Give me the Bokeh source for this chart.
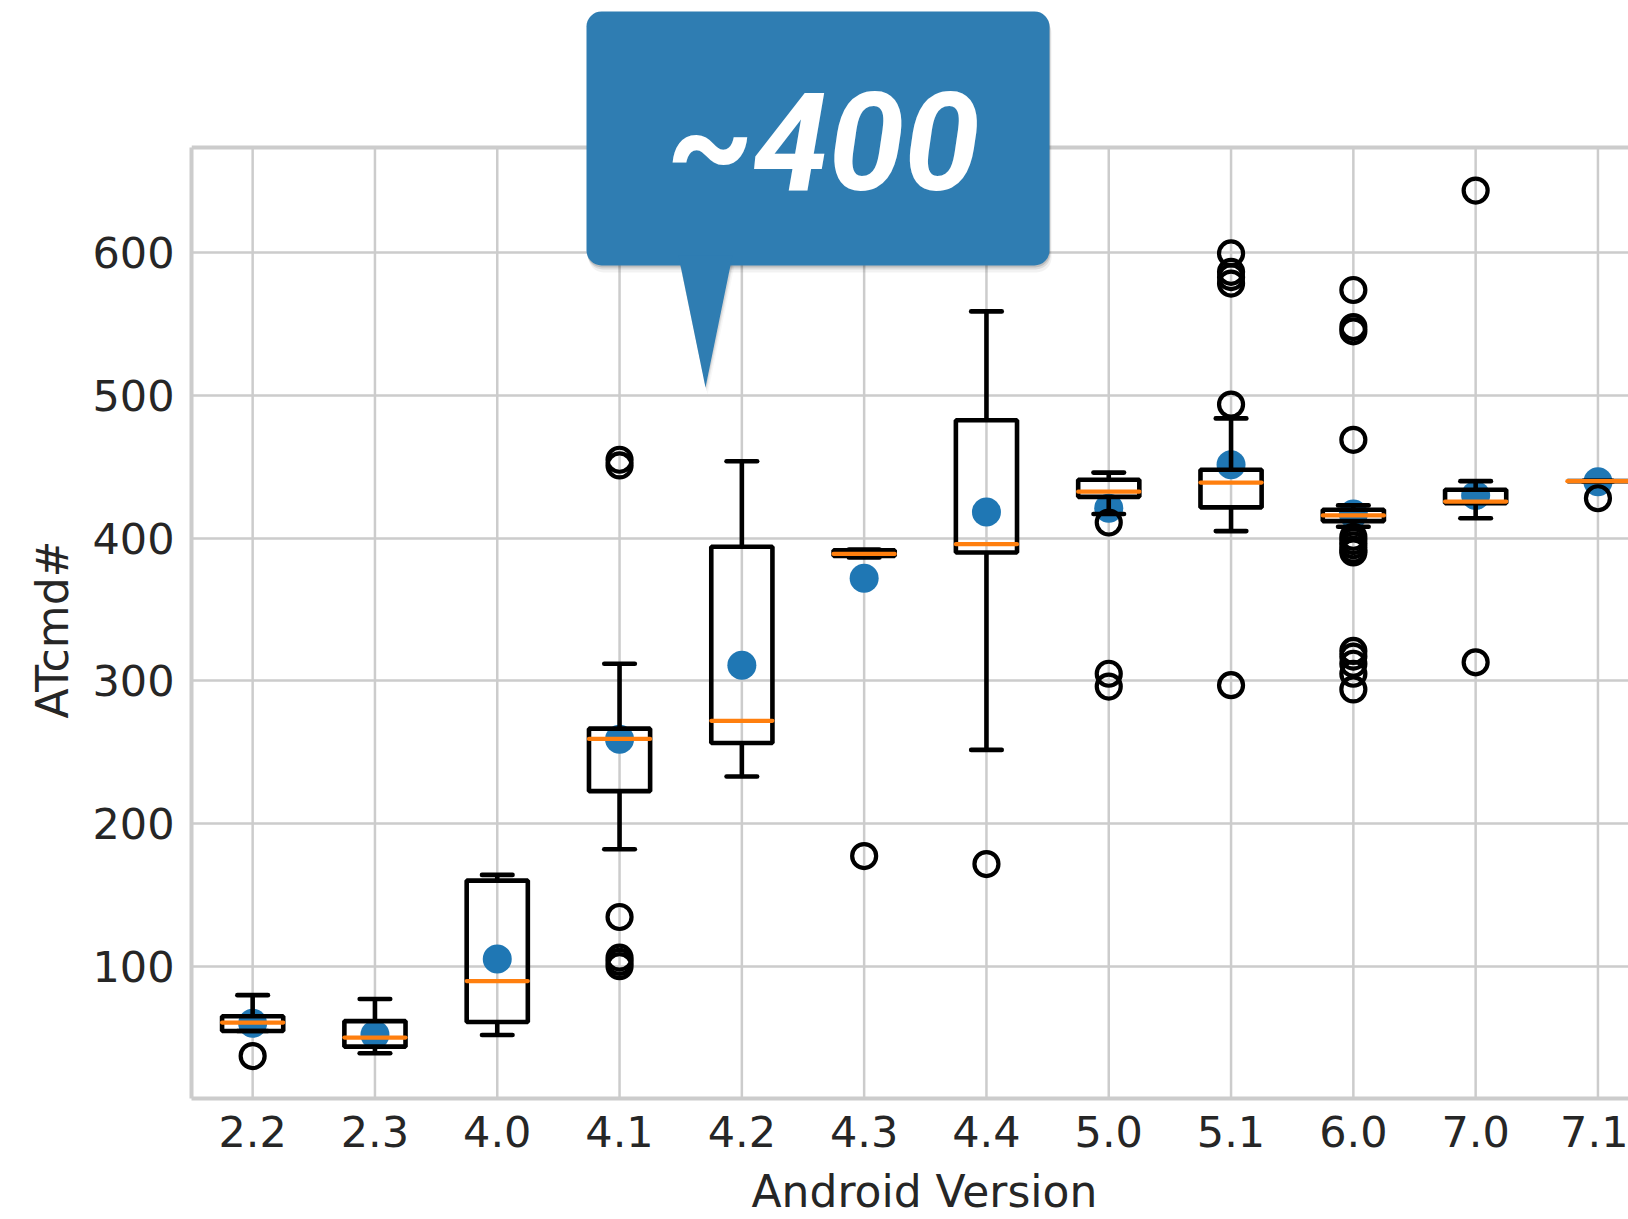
from bokeh.plotting import figure
from bokeh.models import (Range1d, FixedTicker, BoxAnnotation, PolyAnnotation, Label,
                          Span, Title, ColumnDataSource)
from bokeh.embed import file_html
from bokeh.resources import INLINE

# ---------------- data ----------------
categories = ["2.2", "2.3", "4.0", "4.1", "4.2", "4.3", "4.4", "5.0", "5.1", "6.0", "7.0", "7.1"]
whisker_lo = [54.6, 39.0, 51.8, 182.0, 233.0, 386.5, 251.6, 417.0, 405.0, 408.0, 414.0, 440.0]
q1         = [54.6, 43.6, 60.9, 222.7, 256.5, 387.5, 390.0, 429.0, 421.6, 412.0, 424.5, 440.0]
median     = [60.5, 50.0, 89.6, 259.3, 272.0, 389.0, 395.8, 432.6, 439.0, 416.0, 425.7, 440.0]
q3         = [64.9, 61.5, 160.0, 266.5, 394.0, 391.5, 482.7, 441.0, 448.0, 420.0, 434.0, 440.0]
whisker_hi = [79.7, 77.0, 164.0, 312.0, 454.0, 392.0, 559.0, 446.0, 484.0, 423.0, 440.0, 440.0]
mean       = [60.0, 52.0, 105.0, 259.0, 311.0, 372.0, 418.4, 421.0, 451.5, 417.0, 430.0, 439.5]

outlier_cat = ["2.2",
               "4.1", "4.1", "4.1", "4.1", "4.1", "4.1",
               "4.3", "4.4",
               "5.0", "5.0", "5.0",
               "5.1", "5.1", "5.1", "5.1", "5.1", "5.1",
               "6.0", "6.0", "6.0", "6.0", "6.0", "6.0", "6.0", "6.0", "6.0",
               "6.0", "6.0", "6.0", "6.0", "6.0",
               "7.0", "7.0",
               "7.1"]
outlier_val = [37.0,
               455.0, 451.0, 134.5, 106.0, 103.0, 100.0,
               177.2, 171.6,
               411.0, 305.0, 296.0,
               599.6, 586.7, 583.0, 578.5, 493.7, 297.0,
               574.0, 548.0, 545.0, 469.0, 401.0, 398.0, 395.0, 392.0, 390.0,
               321.0, 317.0, 312.0, 305.0, 294.0,
               643.7, 313.0,
               428.0]

y_ticks = [100, 200, 300, 400, 500, 600]
callout_text = "~400"
x_title = "Android Version"
y_title = "ATcmd#"

# ---------------- geometry ----------------
pos = {c: i + 1 for i, c in enumerate(categories)}
xs = [pos[c] for c in categories]
box_w = 0.5
cap_w = 0.25

# data extent of the axes box (matplotlib-like 5% margins)
AX_X0, AX_X1 = 0.5, len(categories) + 0.5
AX_Y0, AX_Y1 = 7.26, 673.9

LEFT = 191
FRAME_W = 1628 - LEFT
FRAME_H = 1098
BOTTOM = 121
PX_PER_X = 122.3
PX_PER_Y = 1.4266

X0 = AX_X0
X1 = X0 + FRAME_W / PX_PER_X
Y0 = AX_Y0
Y1 = Y0 + FRAME_H / PX_PER_Y   # frame reaches the top of the page so the callout fits

GRID = "#cccccc"
TXT = "#262626"

p = figure(frame_width=FRAME_W, frame_height=FRAME_H,
           min_border_left=LEFT, min_border_right=0,
           min_border_top=0, min_border_bottom=BOTTOM,
           x_range=Range1d(X0, X1), y_range=Range1d(Y0, Y1),
           output_backend="svg", toolbar_location=None,
           background_fill_color="white", border_fill_color="white")
p.outline_line_color = None

def px_x(px):
    return X0 + (px - LEFT) / PX_PER_X

def px_y(py):
    return Y1 - py / PX_PER_Y

# axes
p.xaxis.ticker = FixedTicker(ticks=xs)
p.xaxis.major_label_overrides = {x: c for x, c in zip(xs, categories)}
p.xaxis.bounds = (AX_X0, AX_X1)
p.yaxis.ticker = FixedTicker(ticks=y_ticks)
p.yaxis.bounds = (AX_Y0, AX_Y1)
for ax in (p.xaxis, p.yaxis):
    ax.axis_line_color = GRID
    ax.axis_line_width = 4
    ax.major_tick_line_color = None
    ax.minor_tick_line_color = None
    ax.major_tick_out = 0
    ax.major_tick_in = 0
    ax.major_label_text_font = "DejaVu Sans"
    ax.major_label_text_font_size = "43px"
    ax.major_label_text_color = TXT
p.xaxis.major_label_standoff = 17
p.yaxis.major_label_standoff = 17

# axis titles, positioned along the axes box (not the taller frame)
title_style = dict(text_font="DejaVu Sans", text_font_size="44px",
                   text_font_style="normal", text_color=TXT)
p.add_layout(Title(text=y_title, align="left", offset=380, vertical_align="bottom",
                   standoff=24, **title_style), "left")
p.add_layout(Title(text=x_title, align="left", offset=560, vertical_align="bottom",
                   standoff=28, **title_style), "below")

# grid: horizontal built in, vertical limited to the axes box
p.ygrid.ticker = FixedTicker(ticks=y_ticks)
p.ygrid.grid_line_color = GRID
p.ygrid.grid_line_width = 2.5
p.xgrid.visible = False
p.segment(x0=xs, y0=[AX_Y0] * len(xs), x1=xs, y1=[AX_Y1] * len(xs),
          line_color=GRID, line_width=2.5, level="underlay")
# top spine
p.add_layout(Span(location=AX_Y1, dimension="width", line_color=GRID, line_width=4))

# ---------------- marks ----------------
src = ColumnDataSource(dict(
    x=xs, left=[x - box_w / 2 for x in xs], right=[x + box_w / 2 for x in xs],
    cl=[x - cap_w / 2 for x in xs], cr=[x + cap_w / 2 for x in xs],
    lo=whisker_lo, q1=q1, med=median, q3=q3, hi=whisker_hi, mean=mean))

LW = 4.6
p.scatter("x", "mean", source=src, size=29, color="#1f77b4", line_color=None)
p.quad(left="left", right="right", bottom="q1", top="q3", source=src,
       fill_color=None, line_color="black", line_width=LW)
p.segment(x0="x", y0="q3", x1="x", y1="hi", source=src, line_color="black", line_width=LW)
p.segment(x0="x", y0="q1", x1="x", y1="lo", source=src, line_color="black", line_width=LW)
p.segment(x0="cl", y0="hi", x1="cr", y1="hi", source=src, line_color="black",
          line_width=LW, line_cap="round")
p.segment(x0="cl", y0="lo", x1="cr", y1="lo", source=src, line_color="black",
          line_width=LW, line_cap="round")
p.segment(x0="left", y0="med", x1="right", y1="med", source=src, line_color="#ff7f0e",
          line_width=4.2, line_cap="round")

osrc = ColumnDataSource(dict(x=[pos[c] for c in outlier_cat], y=outlier_val))
p.scatter("x", "y", source=osrc, size=24, fill_color=None, line_color="black", line_width=4.2)

# ---------------- callout ----------------
BL, BR, BT, BB = 586, 1049, 11, 265
for off, alpha in ((7, 0.05), (4, 0.09), (2, 0.13)):
    p.add_layout(BoxAnnotation(left=px_x(BL + off * 0.3), right=px_x(BR + off * 0.3),
                               top=px_y(BT + off), bottom=px_y(BB + off),
                               fill_color="#000000", fill_alpha=alpha, line_color=None,
                               border_radius=15))
    p.add_layout(PolyAnnotation(xs=[px_x(678 + off * 0.3), px_x(732 + off * 0.3), px_x(705 + off * 0.3)],
                                ys=[px_y(258 + off), px_y(258 + off), px_y(387 + off)],
                                fill_color="#000000", fill_alpha=alpha * 0.6, line_color=None))
CALL = "#2f7db2"
p.add_layout(BoxAnnotation(left=px_x(BL), right=px_x(BR), top=px_y(BT), bottom=px_y(BB),
                           fill_color=CALL, fill_alpha=1.0, line_color=None, border_radius=15))
p.add_layout(PolyAnnotation(xs=[px_x(678), px_x(732), px_x(705)],
                            ys=[px_y(255), px_y(255), px_y(387)],
                            fill_color=CALL, fill_alpha=1.0, line_color=None))
p.add_layout(Label(x=px_x(823), y=px_y(143), text=callout_text,
                   text_align="center", text_baseline="alphabetic",
                   text_font="Roboto", text_font_style="bold italic",
                   text_font_size="136px", text_color="white"))

open("out.html", "w").write(file_html(p, INLINE))
